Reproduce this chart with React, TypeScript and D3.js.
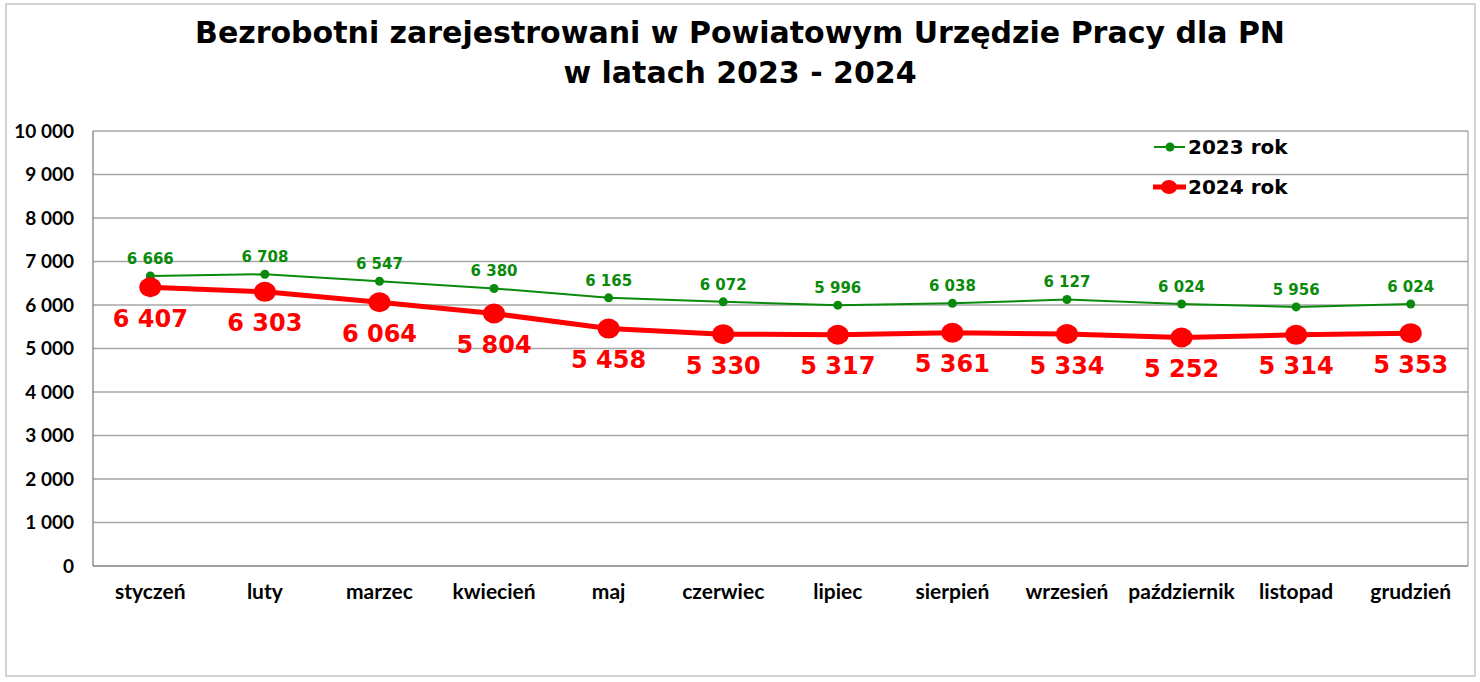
import React from 'react';
import * as d3 from 'd3';

const months = ['styczeń', 'luty', 'marzec', 'kwiecień', 'maj', 'czerwiec', 'lipiec', 'sierpień', 'wrzesień', 'październik', 'listopad', 'grudzień'];
const values2023 = [6666, 6708, 6547, 6380, 6165, 6072, 5996, 6038, 6127, 6024, 5956, 6024];
const values2024 = [6407, 6303, 6064, 5804, 5458, 5330, 5317, 5361, 5334, 5252, 5314, 5353];
const yTicks = [0, 1000, 2000, 3000, 4000, 5000, 6000, 7000, 8000, 9000, 10000];
const titleLines = ['Bezrobotni zarejestrowani w Powiatowym Urzędzie Pracy dla PN', 'w latach 2023 - 2024'];

const W = 1480;
const H = 682;
// plot area
const left = 93;
const right = 1468;
const top = 131;
const bottom = 566;

const fmt = (v: number) => d3.format(',')(v).replace(/,/g, ' ');

export default function App() {
  const x = d3.scaleBand().domain(months).range([left, right]);
  const cx = (m: string) => (x(m) ?? 0) + x.bandwidth() / 2;
  const y = d3.scaleLinear().domain([0, 10000]).range([bottom, top]);

  const line = d3.line<number>()
    .x((_, i) => cx(months[i]))
    .y(d => y(d));

  const green = '#0a8a0a';
  const red = '#ff0000';

  return (
    <svg width={W} height={H} style={{ position: 'absolute', left: 0, top: 0, background: '#fff' }}>
      {/* outer frame */}
      <rect x={6} y={4} width={1469} height={672} fill="#fff" stroke="#c4c4c4" strokeWidth={1.5} />

      {/* title */}
      {titleLines.map((t, i) => (
        <text key={t} x={740} y={43 + i * 40} textAnchor="middle" fontFamily="DejaVu Sans" fontWeight="bold" fontSize={30} fill="#000">
          {t}
        </text>
      ))}

      {/* grid lines */}
      {yTicks.map(t => (
        <line key={t} x1={left} x2={right} y1={y(t)} y2={y(t)} stroke={t === 0 ? '#808080' : '#a6a6a6'} strokeWidth={1.3} />
      ))}
      <line x1={left} x2={left} y1={top} y2={bottom} stroke="#808080" strokeWidth={1.3} />
      <line x1={right} x2={right} y1={top} y2={bottom} stroke="#a6a6a6" strokeWidth={1.3} />

      {/* y labels */}
      {yTicks.map(t => (
        <text key={t} x={74} y={y(t)} dy="0.36em" textAnchor="end" fontFamily="Lato" fontWeight="bold" fontSize={19} fill="#000">
          {fmt(t)}
        </text>
      ))}

      {/* x labels */}
      {months.map(m => (
        <text key={m} x={cx(m)} y={599} textAnchor="middle" fontFamily="Lato" fontWeight="bold" fontSize={21} fill="#000">
          {m}
        </text>
      ))}

      {/* 2023 series */}
      <path d={line(values2023) ?? ''} fill="none" stroke={green} strokeWidth={2} />
      {values2023.map((v, i) => (
        <g key={i}>
          <circle cx={cx(months[i])} cy={y(v)} r={4.5} fill={green} />
          <text x={cx(months[i])} y={y(v) - 12} textAnchor="middle" fontFamily="DejaVu Sans" fontWeight="bold" fontSize={15} fill={green}>
            {fmt(v)}
          </text>
        </g>
      ))}

      {/* 2024 series */}
      <path d={line(values2024) ?? ''} fill="none" stroke={red} strokeWidth={5} />
      {values2024.map((v, i) => (
        <g key={i}>
          <ellipse cx={cx(months[i])} cy={y(v)} rx={11} ry={10} fill={red} />
          <text x={cx(months[i])} y={y(v) + 31} dy="0.36em" textAnchor="middle" fontFamily="DejaVu Sans" fontWeight="bold" fontSize={24} fill={red}>
            {fmt(v)}
          </text>
        </g>
      ))}

      {/* legend */}
      <g>
        <line x1={1154} x2={1185} y1={147} y2={147} stroke={green} strokeWidth={2} />
        <circle cx={1170} cy={147} r={4.5} fill={green} />
        <text x={1188} y={147} dy="0.36em" fontFamily="DejaVu Sans" fontWeight="bold" fontSize={20} fill="#000">2023 rok</text>
        <line x1={1153} x2={1186} y1={187} y2={187} stroke={red} strokeWidth={5} />
        <ellipse cx={1169} cy={187} rx={8} ry={7} fill={red} />
        <text x={1188} y={187} dy="0.36em" fontFamily="DejaVu Sans" fontWeight="bold" fontSize={20} fill="#000">2024 rok</text>
      </g>
    </svg>
  );
}
